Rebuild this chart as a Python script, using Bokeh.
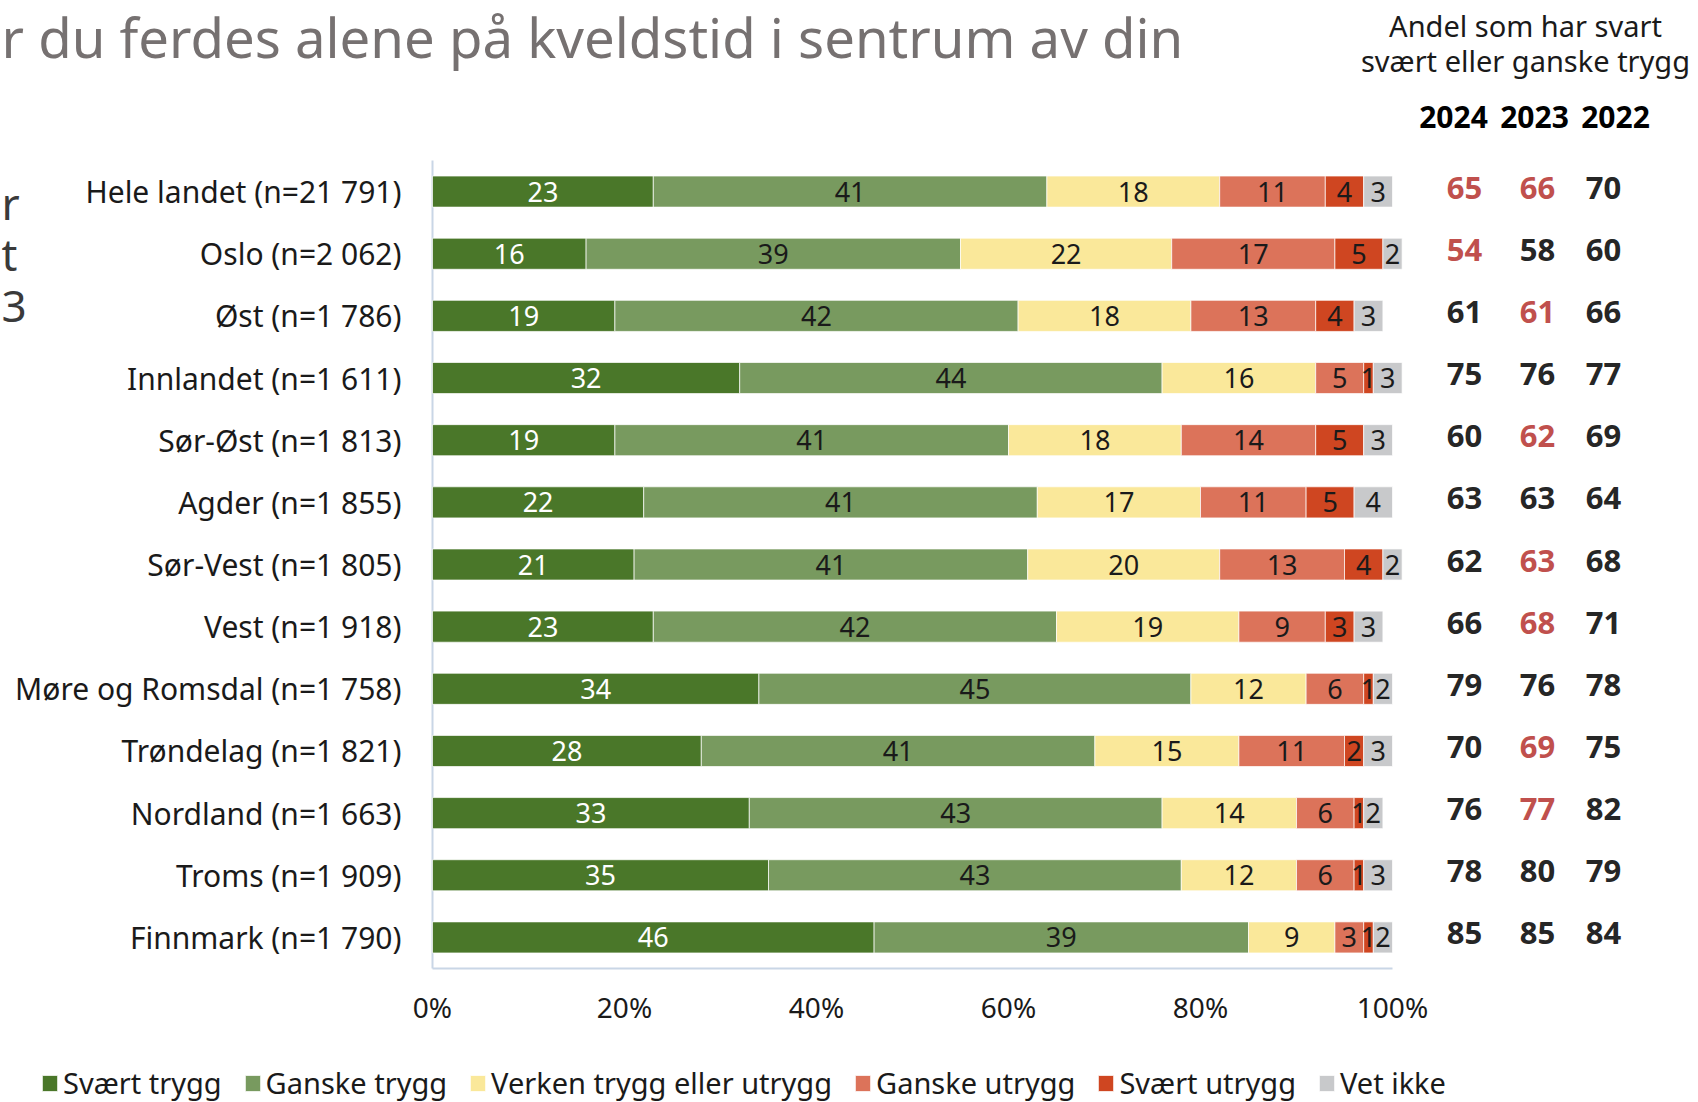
from bokeh.plotting import figure
from bokeh.models import ColumnDataSource, Range1d, Legend, LegendItem
from bokeh.core.properties import value
from bokeh.embed import file_html
from bokeh.resources import INLINE

# ---------------- data ----------------
categories = ["Hele landet (n=21 791)", "Oslo (n=2 062)", "Øst (n=1 786)",
              "Innlandet (n=1 611)", "Sør-Øst (n=1 813)", "Agder (n=1 855)",
              "Sør-Vest (n=1 805)", "Vest (n=1 918)", "Møre og Romsdal (n=1 758)",
              "Trøndelag (n=1 821)", "Nordland (n=1 663)", "Troms (n=1 909)",
              "Finnmark (n=1 790)"]
series_names = ["Svært trygg", "Ganske trygg", "Verken trygg eller utrygg",
                "Ganske utrygg", "Svært utrygg", "Vet ikke"]
svaert_trygg = [23, 16, 19, 32, 19, 22, 21, 23, 34, 28, 33, 35, 46]
ganske_trygg = [41, 39, 42, 44, 41, 41, 41, 42, 45, 41, 43, 43, 39]
verken = [18, 22, 18, 16, 18, 17, 20, 19, 12, 15, 14, 12, 9]
ganske_utrygg = [11, 17, 13, 5, 14, 11, 13, 9, 6, 11, 6, 6, 3]
svaert_utrygg = [4, 5, 4, 1, 5, 5, 4, 3, 1, 2, 1, 1, 1]
vet_ikke = [3, 2, 3, 3, 3, 4, 2, 3, 2, 3, 2, 3, 2]

years = ["2024", "2023", "2022"]
trygg_2024 = [65, 54, 61, 75, 60, 63, 62, 66, 79, 70, 76, 78, 85]
trygg_2023 = [66, 58, 61, 76, 62, 63, 63, 68, 76, 69, 77, 80, 85]
trygg_2022 = [70, 60, 66, 77, 69, 64, 68, 71, 78, 75, 82, 79, 84]
# 1 = shown in red in the reference
marked_2024 = [1, 1, 0, 0, 0, 0, 0, 0, 0, 0, 0, 0, 0]
marked_2023 = [1, 0, 1, 0, 1, 0, 1, 1, 0, 1, 1, 0, 0]
marked_2022 = [0, 0, 0, 0, 0, 0, 0, 0, 0, 0, 0, 0, 0]

x_ticks = [0, 20, 40, 60, 80, 100]
x_tick_labels = ["0%", "20%", "40%", "60%", "80%", "100%"]

title_text = "r du ferdes alene på kveldstid i sentrum av din"
side_fragments = ["r", "t", "3"]
panel_title = ["Andel som har svart", "svært eller ganske trygg"]

# ---------------- style / layout ----------------
FONT = "Noto Sans"
colors = ["#4A7729", "#789A5F", "#FAE89A", "#DC735A", "#CF4621", "#C8C9CB"]
seg_text_colors = ["white", "#1a1a1a", "#1a1a1a", "#1a1a1a", "#1a1a1a", "#1a1a1a"]
DARK = "#262626"
RED = "#C0504D"
AXIS_COL = "#C9D6E6"

W, H = 1698, 1102
X0 = 432            # px of 0 %
PX_PER_PCT = 9.6
TOP, BOTTOM = 160, 968   # px of the category band
N = len(categories)
ROW = (BOTTOM - TOP) / N

def xd(px):
    return (px - X0) / PX_PER_PCT

def yd(py):
    return (py - TOP) / ROW - 0.5

rows = list(range(N))

p = figure(width=W, height=H,
           x_range=Range1d(xd(0), xd(W)),
           y_range=Range1d(yd(H), yd(0)),
           output_backend="svg", toolbar_location=None,
           x_axis_location=None, y_axis_location=None,
           min_border=0)
p.outline_line_color = None
p.xgrid.grid_line_color = None
p.ygrid.grid_line_color = None
p.background_fill_color = "white"
p.border_fill_color = "white"

series = [svaert_trygg, ganske_trygg, verken, ganske_utrygg, svaert_utrygg, vet_ikke]
keys = ["s%d" % i for i in range(len(series))]
data = {"row": rows, "cat": categories}
for k, s in zip(keys, series):
    data[k] = s
src = ColumnDataSource(data)

# axis lines
p.segment(x0=[0], y0=[-0.5], x1=[0], y1=[N - 0.5], line_color=AXIS_COL, line_width=2)
p.segment(x0=[0], y0=[N - 0.5], x1=[100], y1=[N - 0.5], line_color=AXIS_COL, line_width=2)

bars = p.hbar_stack(keys, y="row", height=0.5, color=colors, source=src,
                    line_color="white", line_width=1, line_alpha=0.7)

# category labels (y axis)
p.text(x=0, y="row", text="cat", source=src, x_offset=-31,
       text_align="right", text_baseline="middle", text_font=value(FONT),
       text_font_size="30px", text_color="#1a1a1a")

# x tick labels
p.text(x=x_ticks, y=[N - 0.5] * len(x_ticks), text=x_tick_labels, y_offset=38,
       text_align="center", text_baseline="middle", text_font=value(FONT),
       text_font_size="28px", text_color="#1a1a1a")

# segment labels
left = [0] * N
for i, s in enumerate(series):
    mids = [l + v / 2 for l, v in zip(left, s)]
    lsrc = ColumnDataSource(dict(x=mids, y=rows, t=[str(v) for v in s]))
    p.text(x="x", y="y", text="t", source=lsrc, text_align="center",
           text_baseline="middle", text_font=value(FONT), text_font_size="27px",
           text_color=seg_text_colors[i])
    left = [l + v for l, v in zip(left, s)]

# right-hand columns
col_values = [trygg_2024, trygg_2023, trygg_2022]
col_marks = [marked_2024, marked_2023, marked_2022]
col_x = [xd(1464), xd(1537), xd(1603)]
head_x = [xd(1453), xd(1534), xd(1615)]
for vals, marks, cx in zip(col_values, col_marks, col_x):
    csrc = ColumnDataSource(dict(x=[cx] * N, y=rows,
                                 t=[str(v) for v in vals],
                                 c=[RED if m else DARK for m in marks]))
    p.text(x="x", y="y", text="t", source=csrc, text_color="c",
           text_align="center", text_baseline="middle", y_offset=-4,
           text_font=value(FONT), text_font_style="bold", text_font_size="31px")
p.text(x=head_x, y=[yd(116)] * len(years), text=years, text_align="center",
       text_baseline="middle", text_font=value(FONT), text_font_style="bold",
       text_font_size="30px", text_color="black")

# texts at the top / left
p.text(x=[xd(1)], y=[yd(36)], text=[title_text], text_align="left",
       text_baseline="middle", text_font=value(FONT),
       text_font_size="54.5px", text_color="#767171")
p.text(x=[xd(1)] * 3, y=[yd(202), yd(253), yd(306)], text=side_fragments,
       text_align="left", text_baseline="middle", text_font=value(FONT),
       text_font_size="44px", text_color="#3a3a3a")
p.text(x=[xd(1525)] * 2, y=[yd(25), yd(60)], text=panel_title,
       text_align="center", text_baseline="middle", text_font=value(FONT),
       text_font_size="29px", text_color="#1a1a1a")

# legend
items = [LegendItem(label=n, renderers=[r]) for n, r in zip(series_names, bars)]
legend = Legend(items=items, orientation="horizontal", location=(40, 0),
                padding=0, margin=0, spacing=21, label_standoff=4,
                glyph_width=19, glyph_height=20,
                border_line_color=None, background_fill_alpha=0,
                label_text_font=FONT, label_text_font_size="29px",
                label_text_color="#1a1a1a")
p.add_layout(legend)

open("out.html", "w").write(file_html(p, INLINE))
